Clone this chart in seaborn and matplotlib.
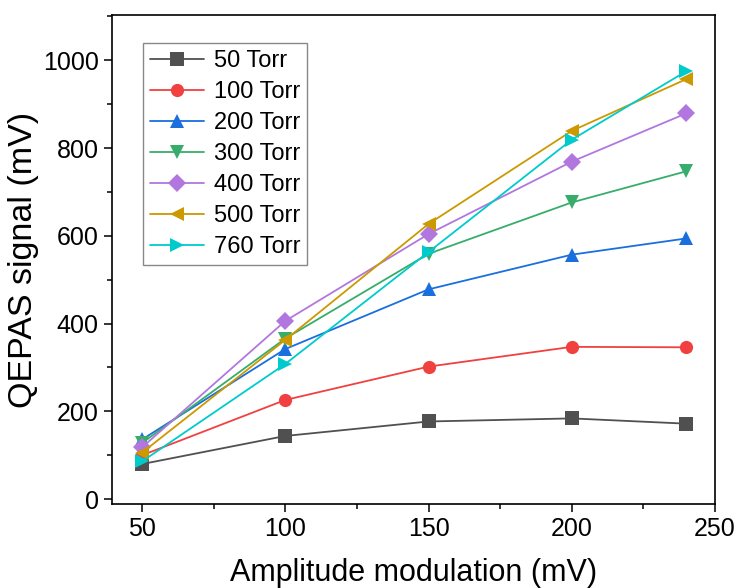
import numpy as np
import pandas as pd
import matplotlib
matplotlib.use("Agg")
import matplotlib.pyplot as plt
import seaborn as sns
from matplotlib.ticker import MultipleLocator

# ---- data ----
amplitude = [50, 100, 150, 200, 240]
series_names = ["50 Torr", "100 Torr", "200 Torr", "300 Torr", "400 Torr", "500 Torr", "760 Torr"]
s50 = [80, 144, 177, 184, 172]
s100 = [100, 226, 302, 347, 346]
s200 = [136, 342, 478, 557, 594]
s300 = [128, 366, 559, 676, 747]
s400 = [118, 406, 604, 769, 879]
s500 = [106, 363, 627, 839, 957]
s760 = [86, 308, 563, 819, 975]
all_series = [s50, s100, s200, s300, s400, s500, s760]

colors = ["#505050", "#F14040", "#1A6FDF", "#37AD6B", "#B177DE", "#CC9900", "#00CBCC"]
markers = ["s", "o", "^", "v", "D", "<", ">"]

rows = []
for name, vals in zip(series_names, all_series):
    for x, y in zip(amplitude, vals):
        rows.append({"Amplitude": x, "Signal": y, "Pressure": name})
df = pd.DataFrame(rows)

sns.set_style("ticks")
plt.rcParams["font.family"] = ["Liberation Sans", "DejaVu Sans"]
plt.rcParams["text.color"] = "black"
plt.rcParams["axes.labelcolor"] = "black"
plt.rcParams["xtick.color"] = "black"
plt.rcParams["ytick.color"] = "black"

fig = plt.figure(figsize=(7.36, 5.88), dpi=100)
ax = fig.add_axes([112 / 736, 1 - 504 / 588, (715 - 112) / 736, (504 - 15) / 588])

sns.lineplot(data=df, x="Amplitude", y="Signal", hue="Pressure", style="Pressure",
             hue_order=series_names, style_order=series_names,
             palette=colors, markers=markers, dashes=False,
             markersize=9.5, markeredgewidth=0, linewidth=1.3, ax=ax, legend=True)

ax.set_xlim(39.5, 250)
ax.set_ylim(-11, 1103)
ax.xaxis.set_major_locator(MultipleLocator(50))
ax.xaxis.set_minor_locator(MultipleLocator(25))
ax.yaxis.set_major_locator(MultipleLocator(200))
ax.yaxis.set_minor_locator(MultipleLocator(100))

ax.tick_params(which="major", direction="out", length=6, width=1.1, labelsize=18,
               color="black", labelcolor="black")
ax.tick_params(which="minor", direction="out", length=3.5, width=1.1, color="black")
for sp in ax.spines.values():
    sp.set_visible(True)
    sp.set_linewidth(1.2)
    sp.set_color("black")

ax.set_xlabel("Amplitude modulation (mV)", fontsize=22, labelpad=12, color="black")
ax.set_ylabel("QEPAS signal (mV)", fontsize=24.5, labelpad=3, color="black")

handles, labels = ax.get_legend_handles_labels()
leg = ax.legend(handles, labels, loc="upper left", bbox_to_anchor=(0.051, 0.943),
                borderaxespad=0, fontsize=17, frameon=True, fancybox=False,
                framealpha=1, edgecolor="#888888", handlelength=2.3,
                labelspacing=0.38, handletextpad=0.4, borderpad=0.3)
leg.get_frame().set_linewidth(1.0)
for t in leg.get_texts():
    t.set_color("black")

fig.savefig("out.png", dpi=100)
